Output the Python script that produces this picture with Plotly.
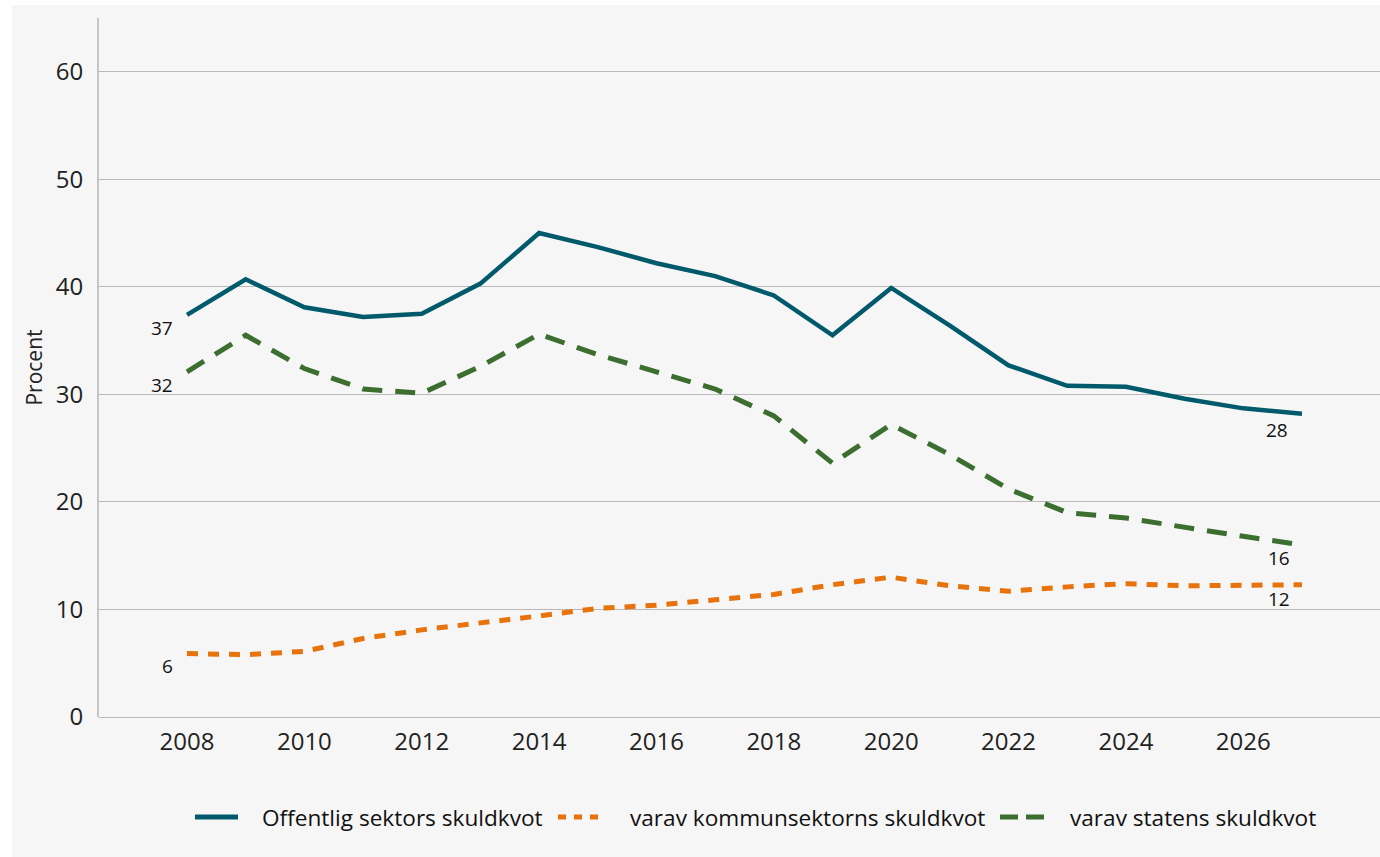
import plotly.graph_objects as go

years = list(range(2008, 2028))
offentlig = [37.4, 40.7, 38.1, 37.2, 37.5, 40.3, 45.0, 43.7, 42.2, 41.0,
             39.2, 35.5, 39.9, 36.4, 32.7, 30.8, 30.7, 29.6, 28.7, 28.2]
kommun = [5.9, 5.8, 6.1, 7.3, 8.1, 8.7, 9.4, 10.1, 10.4, 10.9,
          11.4, 12.3, 13.0, 12.2, 11.7, 12.1, 12.4, 12.2, 12.2, 12.3]
staten = [32.1, 35.5, 32.4, 30.5, 30.1, 32.6, 35.6, 33.7, 32.1, 30.5,
          28.0, 23.6, 27.2, 24.4, 21.2, 19.0, 18.5, 17.6, 16.8, 16.0]
series_names = ["Offentlig sektors skuldkvot", "varav kommunsektorns skuldkvot",
                "varav statens skuldkvot"]
y_ticks = [0, 10, 20, 30, 40, 50, 60]
x_ticks = list(range(2008, 2027, 2))

FONT = "Open Sans"
TEAL = "#005A6C"
ORANGE = "#E8720C"
GREEN = "#3B6E2F"
BG = "#F6F6F6"

styles = [
    dict(color=TEAL, width=4.5, dash="solid"),
    dict(color=ORANGE, width=5, dash="11px,10px"),
    dict(color=GREEN, width=5, dash="20px,13px"),
]
legend_dash = ["solid", "8px,8px", "18px,8px"]

fig = go.Figure()
for name, vals, st in zip(series_names, [offentlig, kommun, staten], styles):
    fig.add_trace(go.Scatter(x=years, y=vals, name=name, mode="lines",
                             line=st, showlegend=False))

# end labels
labels = [
    (years[0], offentlig[0], -25, -13),
    (years[0], staten[0], -25, -13),
    (years[0], kommun[0], -20, -12),
    (years[-1], offentlig[-1], -25, -16),
    (years[-1], staten[-1], -23, -13),
    (years[-1], kommun[-1], -23, -14),
]
for xv, yv, xs, ys in labels:
    fig.add_annotation(x=xv, y=yv, text=f"{round(yv)}", showarrow=False,
                       xshift=xs, yshift=ys, font=dict(family=FONT, size=19, color="#111"))

# plot area geometry in pixels (for paper-coordinate placement)
L, T, W, H = 99, 18, 1281, 699
def px_x(px):
    return (px - L) / W
def px_y(py):
    return (T + H - py) / H

# background panel (white strip on top and left)
fig.add_shape(type="rect", xref="paper", yref="paper", layer="below",
              x0=px_x(12), x1=1.01, y0=px_y(870), y1=px_y(5),
              fillcolor=BG, line=dict(width=0))

# legend drawn below the plot
leg_y = px_y(817)
leg_items = [(195, 238, 260), (558, 600, 628), (1000, 1045, 1068)]
for (x0, x1, xt), name, st, dsh in zip(leg_items, series_names, styles, legend_dash):
    fig.add_shape(type="line", xref="paper", yref="paper",
                  x0=px_x(x0), x1=px_x(x1), y0=leg_y, y1=leg_y,
                  line=dict(color=st["color"], width=5, dash=dsh))
    fig.add_annotation(xref="paper", yref="paper", x=px_x(xt), y=leg_y, text=name,
                       showarrow=False, xanchor="left", yanchor="middle",
                       font=dict(family=FONT, size=22.6, color="#111"))

fig.update_layout(
    width=1380, height=857,
    margin=dict(l=L, r=0, t=T, b=857 - T - H),
    paper_bgcolor="white", plot_bgcolor=BG,
    font=dict(family=FONT, size=21, color="#222"),
    showlegend=False,
    xaxis=dict(range=[2006.5, 2028.33], tickvals=x_ticks, showgrid=False, zeroline=False,
               showline=False, ticks="", ticklabelstandoff=8,
               tickfont=dict(family=FONT, size=24, color="#222")),
    yaxis=dict(range=[0, 65], tickvals=y_ticks, showgrid=True, gridcolor="#B9B9B9",
               gridwidth=1.3, zeroline=True, zerolinecolor="#B9B9B9", zerolinewidth=1.3,
               showline=True, linecolor="#C6C6C6", linewidth=2, ticks="",
               ticklabelstandoff=9,
               tickfont=dict(family=FONT, size=24, color="#222"),
               title=dict(text="Procent", standoff=7, font=dict(family=FONT, size=21, color="#222"))),
)

fig.write_html("out.html", config={"displayModeBar": False},
               post_script="document.body.style.margin='0';")
